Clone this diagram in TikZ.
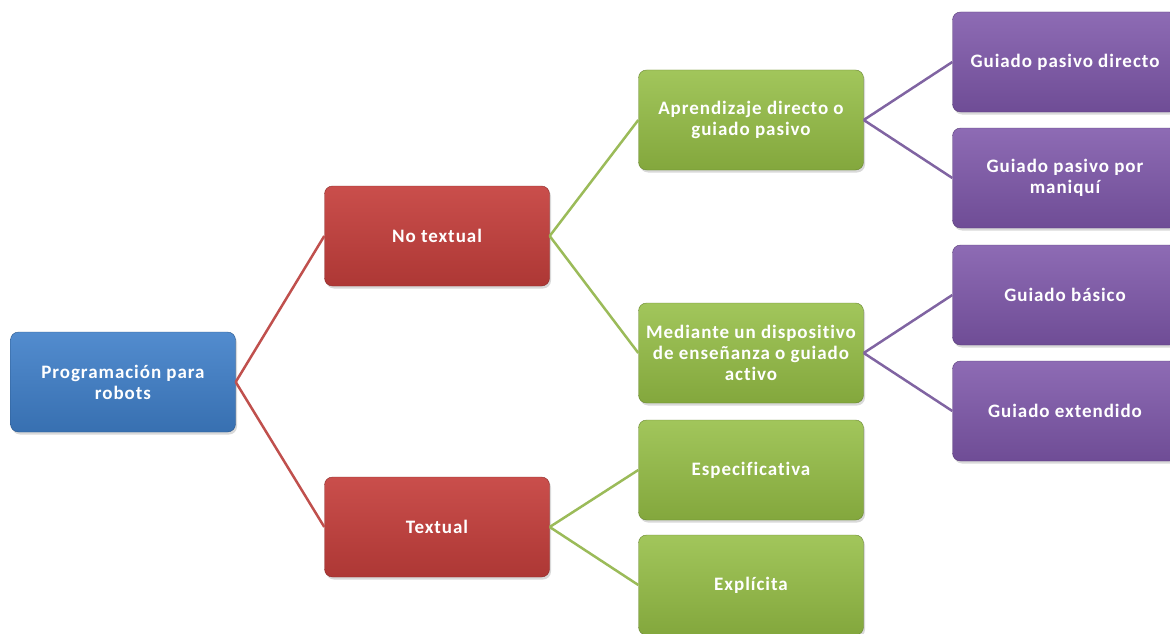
\documentclass[tikz,border=0pt]{standalone}
\usepackage{fontspec}
\setmainfont{Carlito}[LetterSpace=5, Ligatures=NoCommon]
\usetikzlibrary{
  shadows
  , positioning
}
\definecolor{rootblue}{HTML}{3F7FC9}
\definecolor{nodered}{HTML}{C53F3C}
\definecolor{nodegreen}{HTML}{95BE45}
\definecolor{nodepurple}{HTML}{7E57AA}
\definecolor{linered}{HTML}{C0504D}
\definecolor{linegreen}{HTML}{9BBB59}
\definecolor{linepurple}{HTML}{8064A2}

\begin{document}
\begin{tikzpicture}[x=1pt, y=-1pt,
    box/.style={rounded corners=8pt,
      minimum width=225pt,
      minimum height=100pt,
      align=center,
      text=white,
      font=\bfseries\fontsize{19}{21}\selectfont,
      drop shadow={opacity=0.3, shadow xshift=1.5pt, shadow yshift=-2.5pt}},
    rootbox/.style={box, top color=rootblue!90!white, bottom color=rootblue!88!black, draw=rootblue!70!black},
    redbox/.style={box, top color=nodered!92!white, bottom color=nodered!88!black, draw=nodered!70!black},
    greenbox/.style={box, top color=nodegreen!88!white, bottom color=nodegreen!88!black, draw=nodegreen!70!black},
    purplebox/.style={box, top color=nodepurple!88!white, bottom color=nodepurple!88!black, draw=nodepurple!70!black},
    link/.style={line width=2.5pt}]
      \useasboundingbox (0,0) rectangle (1170,634);

      % first level
      \node [rootbox] (prog) at (123,382) {Programación para\\robots};

      % second level
      \node [redbox] (notext) at (437,236) {No textual};
      \node [redbox] (text) at (437,527) {Textual};

      % third level
      \node [greenbox] (aprend) at (751,120) {Aprendizaje directo o\\guiado pasivo};
      \node [greenbox] (mediante) at (751,353) {Mediante un dispositivo\\de enseñanza o guiado\\activo};
      \node [greenbox] (espec) at (751,470) {Especificativa};
      \node [greenbox] (explic) at (751,585) {Explícita};

      % fourth level
      \node [purplebox] (pasdir) at (1065,62) {Guiado pasivo directo};
      \node [purplebox] (pasman) at (1065,178) {Guiado pasivo por\\maniquí};
      \node [purplebox] (basico) at (1065,295) {Guiado básico};
      \node [purplebox] (extend) at (1065,411) {Guiado extendido};

      % connectors
      \draw [link, linered] (prog.east) -- (notext.west);
      \draw [link, linered] (prog.east) -- (text.west);
      \draw [link, linegreen] (notext.east) -- (aprend.west);
      \draw [link, linegreen] (notext.east) -- (mediante.west);
      \draw [link, linegreen] (text.east) -- (espec.west);
      \draw [link, linegreen] (text.east) -- (explic.west);
      \draw [link, linepurple] (aprend.east) -- (pasdir.west);
      \draw [link, linepurple] (aprend.east) -- (pasman.west);
      \draw [link, linepurple] (mediante.east) -- (basico.west);
      \draw [link, linepurple] (mediante.east) -- (extend.west);
    \end{tikzpicture}
\end{document}
